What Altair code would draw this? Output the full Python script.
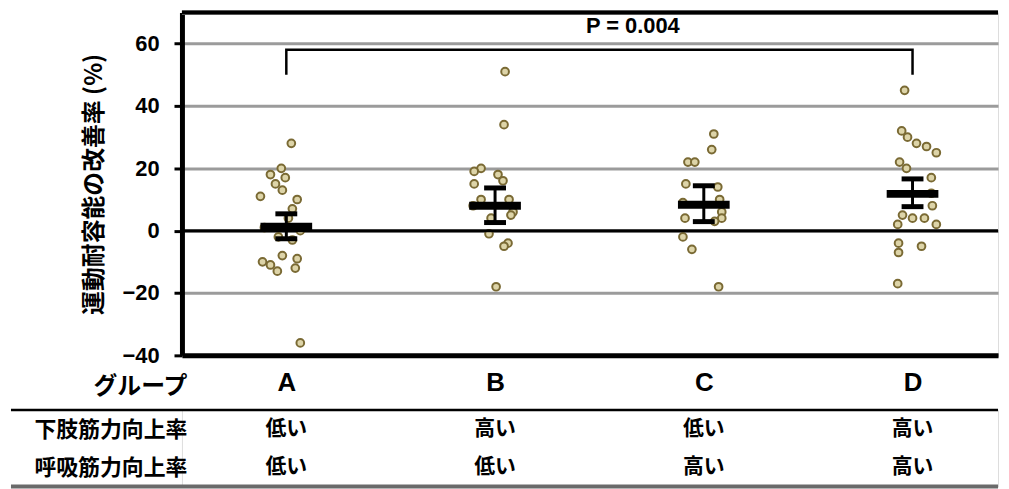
import altair as alt
import pandas as pd

# ---------------- data ----------------
groups = ["A", "B", "C", "D"]
group_pos = [1, 2, 3, 4]

vals_A = [28, 20, 18, 17, 15, 13, 11, 10, 7, 4, 1, 0, -2, -3, -8, -9, -10, -11, -12, -13, -36]
jit_A = [0.024, -0.024, -0.076, -0.005, -0.052, -0.019, -0.124, 0.052, 0.029, 0.01, -0.105,
         0.067, -0.038, 0.029, -0.019, 0.052, -0.114, -0.076, 0.043, -0.043, 0.067]

vals_B = [51, 34, 20, 19, 18, 16, 15, 10, 10, 8, 6, 5, 4, -1, -4, -5, -18]
jit_B = [0.048, 0.043, -0.067, -0.1, 0.014, 0.038, -0.1, -0.067, 0.067, -0.105, 0.086,
         0.076, -0.019, -0.029, 0.062, 0.043, 0.005]

vals_C = [31, 26, 22, 22, 15, 14, 10, 9, 6, 4, 4, 3, -2, -6, -18]
jit_C = [0.048, 0.038, -0.076, -0.043, -0.086, 0.067, 0.076, -0.1, 0.086, -0.09, 0.086,
         0.052, -0.1, -0.057, 0.071]

vals_D = [45, 32, 30, 28, 27, 25, 22, 20, 17, 12, 8, 5, 4, 4, 2, 2, -4, -5, -7, -17]
jit_D = [-0.038, -0.052, -0.024, 0.019, 0.067, 0.114, -0.062, -0.029, 0.09, 0.09, 0.095,
         -0.048, 0.0, 0.057, 0.114, -0.071, -0.067, 0.043, -0.067, -0.071]

means = [1.3, 8.0, 8.3, 11.8]
ci_low = [-2.6, 2.6, 2.9, 7.7]
ci_high = [5.4, 13.7, 14.4, 16.6]

y_title = "運動耐容能の改善率 (%)"
x_title = "グループ"
y_ticks = [-40, -20, 0, 20, 40, 60]
y_domain = [-40, 70]

p_label = "P = 0.004"
bracket_groups = ["A", "D"]
bracket_low = 50
bracket_high = 58
p_x = 2.66
p_y = 65.5

row_labels = ["下肢筋力向上率", "呼吸筋力向上率"]
lower_limb = ["低い", "高い", "低い", "高い"]
respiratory = ["低い", "低い", "高い", "高い"]

# ---------------- tables ----------------
pts = []
for g, p, vals, jit in zip(groups, group_pos, [vals_A, vals_B, vals_C, vals_D],
                           [jit_A, jit_B, jit_C, jit_D]):
    for v, j in zip(vals, jit):
        pts.append({"group": g, "x": p + j, "value": v})
pts_df = pd.DataFrame(pts)

stats_df = pd.DataFrame({"group": groups, "x": group_pos, "mean": means,
                         "lo": ci_low, "hi": ci_high})

b0 = group_pos[groups.index(bracket_groups[0])]
b1 = group_pos[groups.index(bracket_groups[1])]
bracket_df = pd.DataFrame({"x": [b0, b0, b1, b1],
                           "y": [bracket_low, bracket_high, bracket_high, bracket_low],
                           "o": [0, 1, 2, 3]})
p_df = pd.DataFrame({"x": [p_x], "y": [p_y], "t": [p_label]})

tab = []
for g, p, a, b in zip(groups, group_pos, lower_limb, respiratory):
    tab.append({"x": p, "row": row_labels[0], "t": a})
    tab.append({"x": p, "row": row_labels[1], "t": b})
tab_df = pd.DataFrame(tab)

# ---------------- chart ----------------
W = 821
H = 345
TH = 77
LEFT = 172
x_dom = [0.5, 0.5 + W / 210]
xs = alt.Scale(domain=x_dom, nice=False, zero=False)
ys = alt.Scale(domain=y_domain, nice=False, zero=False)

CJK = "Noto Sans CJK JP"
LAT = "Liberation Sans"
label_expr = "[" + ",".join("'%s'" % g for g in groups) + "][datum.value - 1]"

x_enc = alt.X("x:Q", scale=xs, title=x_title,
              axis=alt.Axis(values=group_pos, labelExpr=label_expr, ticks=False, grid=False,
                            domainColor="black", domainWidth=5,
                            labelFont=LAT, labelFontSize=26, labelFontWeight="bold",
                            labelColor="black", labelPadding=14,
                            titleFont=CJK, titleFontSize=24, titleFontWeight="bold",
                            titleColor="black", titleX=5, titleY=31, titleAlign="right",
                            titleBaseline="middle", titleAngle=0))
y_axis = alt.Axis(values=y_ticks, title=y_title, titleFont=CJK, titleFontSize=24,
                  titleFontWeight="bold", titleColor="black", titlePadding=16,
                  labelFont=LAT, labelFontSize=22, labelFontWeight="bold", labelColor="black",
                  labelPadding=15, tickSize=8, tickWidth=3, tickColor="black",
                  domainColor="black", domainWidth=5, gridColor="#9b9b9b", gridWidth=3)

base = alt.Chart(pts_df)
points = base.mark_circle(size=60, fill="#ddd4a8", stroke="#7a6a34", strokeWidth=2,
                          opacity=1).encode(
    x=x_enc, y=alt.Y("value:Q", scale=ys, axis=y_axis))

zero = alt.Chart(pd.DataFrame({"v": [0]})).mark_rule(color="black", strokeWidth=3).encode(
    y=alt.Y("v:Q", scale=ys))
top = alt.Chart(pd.DataFrame({"v": [y_domain[1]]})).mark_rule(
    color="#555555", strokeWidth=5).encode(y=alt.Y("v:Q", scale=ys))
top2 = alt.Chart(pd.DataFrame({"v": [y_domain[1]]})).mark_rule(
    color="black", strokeWidth=3).encode(y=alt.Y("v:Q", scale=ys))

stats = alt.Chart(stats_df)
err = stats.mark_rule(color="black", strokeWidth=3).encode(
    x=alt.X("x:Q", scale=xs), y=alt.Y("lo:Q", scale=ys), y2="hi:Q")
cap_lo = stats.mark_tick(orient="horizontal", size=22, thickness=5, color="black",
                         opacity=1).encode(x=alt.X("x:Q", scale=xs), y=alt.Y("lo:Q", scale=ys))
cap_hi = stats.mark_tick(orient="horizontal", size=22, thickness=5, color="black",
                         opacity=1).encode(x=alt.X("x:Q", scale=xs), y=alt.Y("hi:Q", scale=ys))
mean_bar = stats.mark_tick(orient="horizontal", size=52, thickness=8, color="black",
                           opacity=1).encode(x=alt.X("x:Q", scale=xs),
                                             y=alt.Y("mean:Q", scale=ys))

bracket = alt.Chart(bracket_df).mark_line(color="black", strokeWidth=2.5).encode(
    x=alt.X("x:Q", scale=xs), y=alt.Y("y:Q", scale=ys), order="o:Q")
ptext = alt.Chart(p_df).mark_text(font=LAT, fontSize=22, fontWeight="bold",
                                  color="black", baseline="middle").encode(
    x=alt.X("x:Q", scale=xs), y=alt.Y("y:Q", scale=ys), text="t:N")

main = alt.layer(points, zero, top, top2, err, cap_lo, cap_hi, mean_bar, bracket, ptext
                 ).properties(width=W, height=H)

table_text = alt.Chart(tab_df).mark_text(font=CJK, fontSize=21, fontWeight="bold",
                                         color="black").encode(
    x=alt.X("x:Q", scale=xs, axis=None),
    y=alt.Y("row:N", sort=row_labels, title=None,
            axis=alt.Axis(ticks=False, domain=False, labelFont=CJK, labelFontSize=22,
                          labelFontWeight="bold", labelColor="black", labelPadding=-5,
                          labelAlign="right")),
    text="t:N")
edge = pd.DataFrame({"k": ["e"]})
sep_top = alt.Chart(edge).mark_rule(color="black", strokeWidth=2.5).encode(
    x=alt.value(-LEFT), x2=alt.value(W), y=alt.value(0))
sep_bot = alt.Chart(edge).mark_rule(color="#6a6a6a", strokeWidth=4).encode(
    x=alt.value(-LEFT), x2=alt.value(W), y=alt.value(TH))
table = alt.layer(table_text, sep_top, sep_bot).properties(width=W, height=TH)

chart = alt.vconcat(main, table, spacing=9).properties(
    padding={"left": 0, "top": 0, "right": 0, "bottom": 0}
).configure_view(strokeWidth=0).configure(background="white")

chart.save("out.html", embed_options={"renderer": "svg", "actions": False})
